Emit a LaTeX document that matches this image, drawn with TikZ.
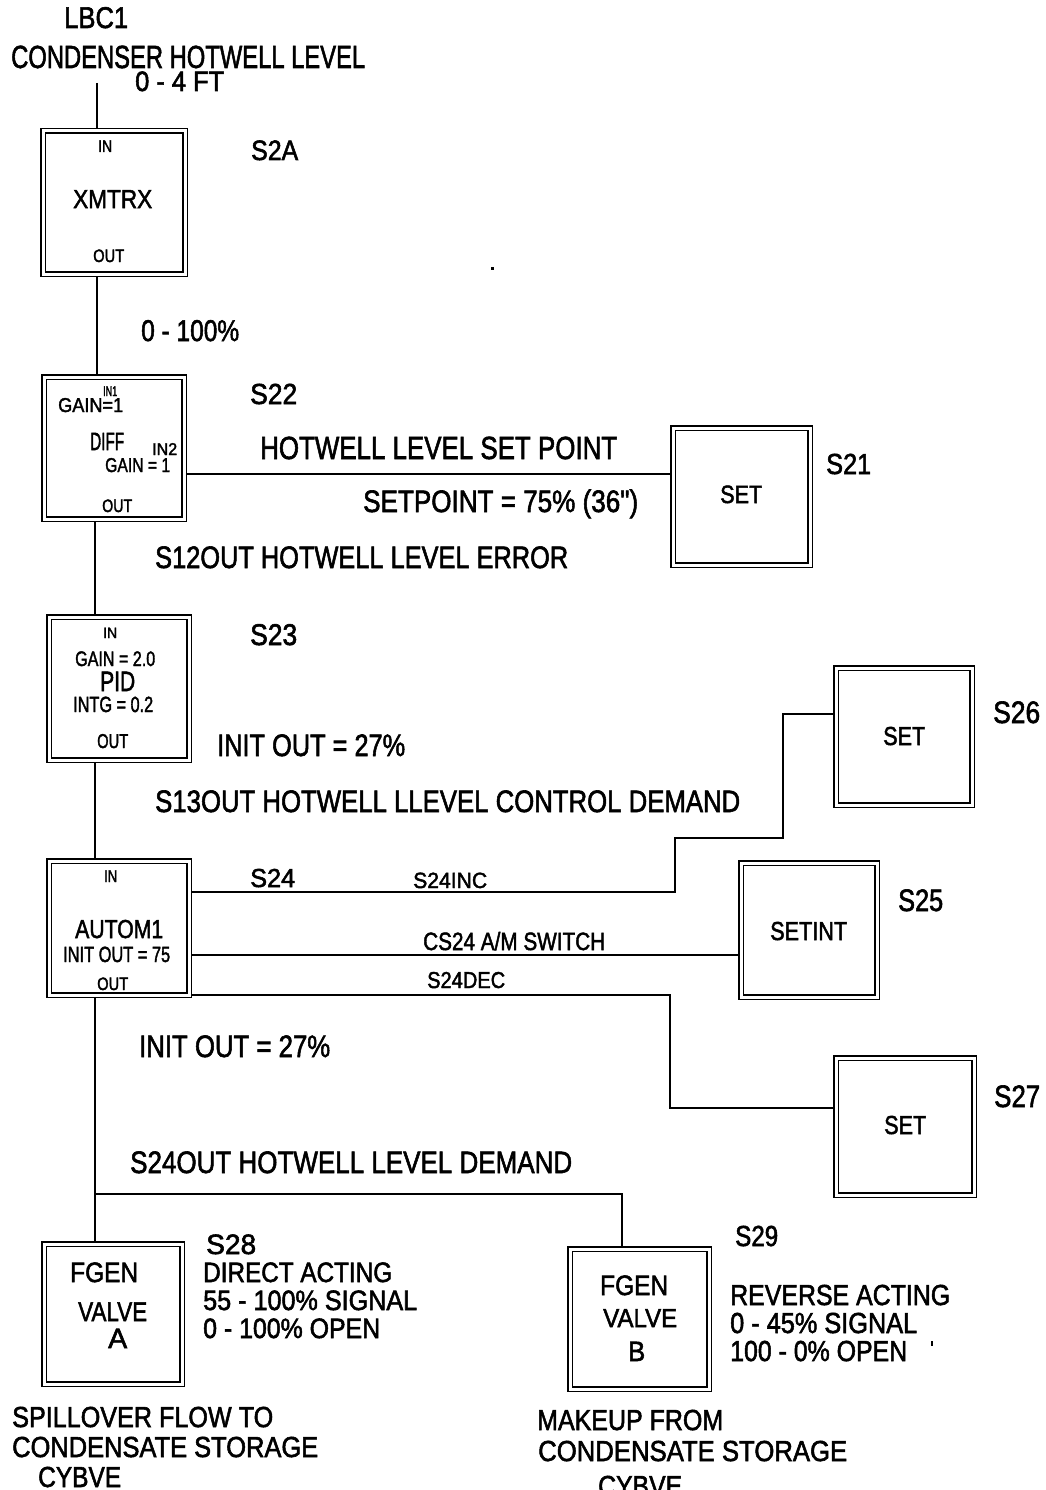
\documentclass[tikz,border=0pt]{standalone}
\usepackage{fontspec}
\setmainfont{Liberation Sans}[FakeBold=2]
\newfontfamily\qfont{Liberation Sans}[Ligatures=TeXOff,FakeBold=2]
\usepackage{graphicx}
\usetikzlibrary{backgrounds}
\newcommand{\tx}[3]{\fontsize{#2}{#2}\selectfont\resizebox{#1pt}{\height}{#3}}
\tikzset{
 txt/.style={inner sep=0pt, anchor=base west},
 blk/.style={draw, line width=1.5pt, double, double distance=3pt, fill=white, inner sep=0pt},
 wire/.style={line width=1.6pt},
}
\begin{document}
\begin{tikzpicture}[x=1pt,y=-1pt]
\useasboundingbox (0,0) rectangle (1045,1490);
% ---------- boxes ----------
\node[blk, minimum width=142pt, minimum height=143pt] (xmtrx) at (114,202.5) {};
\node[blk, minimum width=140pt, minimum height=142pt] (diff) at (114,448) {};
\node[blk, minimum width=137pt, minimum height=137pt] (s21) at (741.5,496.5) {};
\node[blk, minimum width=140pt, minimum height=143pt] (pid) at (119,688.5) {};
\node[blk, minimum width=140pt, minimum height=134pt] (autom) at (119,928) {};
\node[blk, minimum width=136pt, minimum height=137pt] (s26) at (904,736.5) {};
\node[blk, minimum width=136pt, minimum height=134pt] (s25) at (809,930) {};
\node[blk, minimum width=138pt, minimum height=137pt] (s27) at (905,1126.5) {};
\node[blk, minimum width=138pt, minimum height=140pt] (fgena) at (113,1314) {};
\node[blk, minimum width=139pt, minimum height=140pt] (fgenb) at (639.5,1319) {};
% ---------- texts ----------
\node[txt] (lbc) at (64,28) {\tx{64}{30}{LBC1}};
\node[txt] (cond) at (11,68) {\tx{354}{32}{CONDENSER HOTWELL LEVEL}};
\node[txt] (rng) at (135,91) {\tx{89}{28}{0 - 4 FT}};
\node[txt] (xin) at (98,152) {\tx{14}{17}{IN}};
\node[txt] (xname) at (73,208) {\tx{79}{26}{XMTRX}};
\node[txt] (xout) at (93,262) {\tx{31}{18}{OUT}};
\node[txt] (s2a) at (251,160) {\tx{47}{28}{S2A}};
\node[txt] (pct) at (141,341) {\tx{98}{30}{0 - 100\%}};
\node[txt] (din1) at (103,396) {\tx{14}{14}{IN1}};
\node[txt] (dg1) at (58,412) {\tx{65}{20}{GAIN=1}};
\node[txt] (dname) at (90,450) {\tx{34}{25}{DIFF}};
\node[txt] (din2) at (152,455) {\tx{25}{17}{IN2}};
\node[txt] (dg2) at (105,472) {\tx{65}{20}{GAIN = 1}};
\node[txt] (dout) at (102,512) {\tx{30}{18}{OUT}};
\node[txt] (s22) at (250,404) {\tx{47}{29}{S22}};
\node[txt] (hlsp) at (260,459) {\tx{357}{32}{HOTWELL LEVEL SET POINT}};
\node[txt] (spv) at (363,512) {\tx{275}{31}{SETPOINT = 75\% (36{\qfont"})}};
\node[txt] (s21l) at (826,474) {\tx{45}{29}{S21}};
\node[txt] (s21t) at (720,503) {\tx{42}{25}{SET}};
\node[txt] (err) at (155,568) {\tx{413}{31}{S12OUT HOTWELL LEVEL ERROR}};
\node[txt] (pin) at (103,638) {\tx{14}{15}{IN}};
\node[txt] (pg) at (75,666) {\tx{80}{21}{GAIN = 2.0}};
\node[txt] (pname) at (100,691) {\tx{35}{28}{PID}};
\node[txt] (pi) at (73,712) {\tx{80}{22}{INTG = 0.2}};
\node[txt] (pout) at (97,748) {\tx{31}{20}{OUT}};
\node[txt] (s23) at (250,645) {\tx{47}{30}{S23}};
\node[txt] (io1) at (217,756) {\tx{188}{31}{INIT OUT = 27\%}};
\node[txt] (dem1) at (155,812) {\tx{585}{31}{S13OUT HOTWELL LLEVEL CONTROL DEMAND}};
\node[txt] (ain) at (104,882) {\tx{13}{17}{IN}};
\node[txt] (aname) at (75,938) {\tx{88}{26}{AUTOM1}};
\node[txt] (ainit) at (63,962) {\tx{107}{22}{INIT OUT = 75}};
\node[txt] (aout) at (97,990) {\tx{31}{18}{OUT}};
\node[txt] (s24) at (250,887) {\tx{45}{26}{S24}};
\node[txt] (inc) at (413,888) {\tx{74}{22}{S24INC}};
\node[txt] (am) at (423,950) {\tx{182}{25}{CS24 A/M SWITCH}};
\node[txt] (dec) at (427,988) {\tx{78}{23}{S24DEC}};
\node[txt] (s26t) at (883,745) {\tx{42}{26}{SET}};
\node[txt] (s26l) at (993,723) {\tx{47}{31}{S26}};
\node[txt] (s25t) at (770,940) {\tx{77}{26}{SETINT}};
\node[txt] (s25l) at (898,911) {\tx{45}{31}{S25}};
\node[txt] (s27t) at (884,1134) {\tx{42}{26}{SET}};
\node[txt] (s27l) at (994,1107) {\tx{46}{31}{S27}};
\node[txt] (io2) at (139,1057) {\tx{191}{31}{INIT OUT = 27\%}};
\node[txt] (dem2) at (130,1173) {\tx{442}{31}{S24OUT HOTWELL LEVEL DEMAND}};
\node[txt] (fa1) at (70,1282) {\tx{68}{28}{FGEN}};
\node[txt] (fa2) at (78,1321) {\tx{69}{27}{VALVE}};
\node[txt] (fa3) at (108,1348) {\tx{19}{28}{A}};
\node[txt] (s28) at (206,1254) {\tx{50}{28}{S28}};
\node[txt] (da1) at (203,1282) {\tx{189}{28}{DIRECT ACTING}};
\node[txt] (da2) at (203,1310) {\tx{214}{28}{55 - 100\% SIGNAL}};
\node[txt] (da3) at (203,1338) {\tx{177}{28}{0 - 100\% OPEN}};
\node[txt] (sp1) at (12,1427) {\tx{261}{29}{SPILLOVER FLOW TO}};
\node[txt] (sp2) at (12,1457) {\tx{306}{29}{CONDENSATE STORAGE}};
\node[txt] (sp3) at (38,1487) {\tx{83}{29}{CYBVE}};
\node[txt] (fb1) at (600,1295) {\tx{68}{28}{FGEN}};
\node[txt] (fb2) at (603,1327) {\tx{74}{26}{VALVE}};
\node[txt] (fb3) at (628,1361) {\tx{17}{28}{B}};
\node[txt] (s29) at (735,1246) {\tx{43}{29}{S29}};
\node[txt] (ra1) at (730,1305) {\tx{220}{29}{REVERSE ACTING}};
\node[txt] (ra2) at (730,1333) {\tx{187}{29}{0 - 45\% SIGNAL}};
\node[txt] (ra3) at (730,1361) {\tx{177}{29}{100 - 0\% OPEN}};
\node[txt] (mk1) at (537,1430) {\tx{186}{29}{MAKEUP FROM}};
\node[txt] (mk2) at (538,1461) {\tx{309}{29}{CONDENSATE STORAGE}};
\node[txt] (mk3) at (598,1496) {\tx{84}{29}{CYBVE}};
% ---------- helper coordinates ----------
\coordinate (lbcend) at (97,83);
\coordinate (vA) at (97,0);
\coordinate (vB) at (95,0);
\coordinate (vC) at (622,0);
\coordinate (hsp) at (0,474);
\coordinate (hinc) at (0,892);
\coordinate (ham) at (0,955);
\coordinate (hdec) at (0,995);
\coordinate (h26) at (0,714);
\coordinate (h27) at (0,1108);
\coordinate (br) at (95,1194);
% stray marks of the scan
\fill (490.5,266.5) rectangle (493.5,269.5);
\fill (931,1341) rectangle (933,1346);
% ---------- connectors ----------
\begin{pgfonlayer}{background}
\fill[white] (0,0) rectangle (1045,1490);
\draw[wire] (lbcend) -- (lbcend |- xmtrx.north);
\draw[wire] (xmtrx.south -| vA) -- (diff.north -| vA);
\draw[wire] (diff.south -| vB) -- (pid.north -| vB);
\draw[wire] (pid.south -| vB) -- (autom.north -| vB);
\draw[wire] (autom.south -| vB) -- (fgena.north -| vB);
\draw[wire] (br) -| (fgenb.north -| vC);
\draw[wire] (diff.east |- hsp) -- (s21.west |- hsp);
\draw[wire] (autom.east |- hinc) -| (675,838) -| (783,714) -- (s26.west |- h26);
\draw[wire] (autom.east |- ham) -- (s25.west |- ham);
\draw[wire] (autom.east |- hdec) -| (670,1108) -- (s27.west |- h27);
\end{pgfonlayer}
\end{tikzpicture}
\end{document}
